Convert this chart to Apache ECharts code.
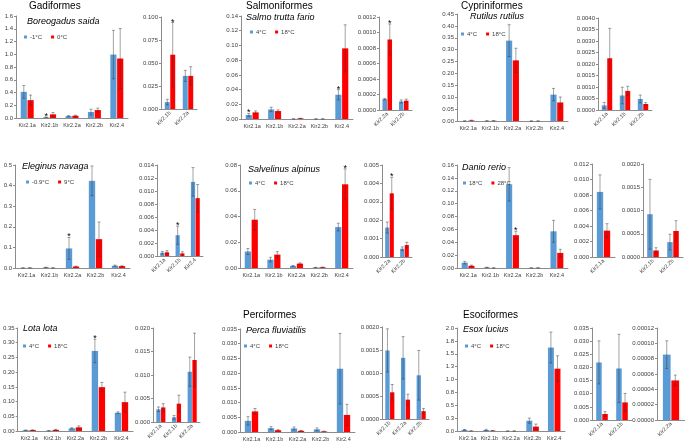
<!DOCTYPE html>
<html><head><meta charset="utf-8">
<script src="https://cdn.jsdelivr.net/npm/echarts@6/dist/echarts.min.js"></script>
<style>html,body{margin:0;padding:0;background:#fff}#c{width:685px;height:442px}</style>
</head><body><div id="c"></div>
<script>
// ---------- DATA ----------
const cats5 = ['Kir2.1a','Kir2.1b','Kir2.2a','Kir2.2b','Kir2.4'];

// Gadiformes - Boreogadus saida
const boreoNames = ['-1°C','0°C'];
const boreoCold = [0.41, 0.01, 0.03, 0.094, 0.995];
const boreoColdErr = [0.10, 0.005, 0.01, 0.045, 0.38];
const boreoWarm = [0.28, 0.057, 0.035, 0.125, 0.933];
const boreoWarmErr = [0.08, 0.03, 0.008, 0.03, 0.47];
const boreoStars = [[0,1]];
const boreoSCats = ['Kir2.1b','Kir2.2a'];
const boreoSCold = [0.0075, 0.036];
const boreoSColdErr = [0.003, 0.006];
const boreoSWarm = [0.059, 0.036];
const boreoSWarmErr = [0.035, 0.010];
const boreoSStars = [[1,0]];

// Salmoniformes - Salmo trutta fario
const salmoNames = ['4°C','18°C'];
const salmoCold = [0.0055, 0.013, 0.00014, 0.0001, 0.033];
const salmoColdErr = [0.002, 0.003, 0.00002, 0.00002, 0.007];
const salmoWarm = [0.009, 0.0108, 0.0009, 0.0001, 0.096];
const salmoWarmErr = [0.002, 0.0016, 0.0002, 0.00003, 0.032];
const salmoStars = [[0,0],[0,4]];
const salmoSCats = ['Kir2.2a','Kir2.2b'];
const salmoSCold = [0.00014, 0.00011];
const salmoSColdErr = [0.00001, 0.00002];
const salmoSWarm = [0.00091, 0.00012];
const salmoSWarmErr = [0.0002, 0.00002];
const salmoSStars = [[1,0]];

// Cypriniformes - Rutilus rutilus
const rutilNames = ['4°C','18°C'];
const rutilCold = [0.0002, 0.0006, 0.338, 0.0001, 0.111];
const rutilColdErr = [0.0001, 0.0003, 0.067, 0.0001, 0.026];
const rutilWarm = [0.0022, 0.0008, 0.255, 0.0001, 0.078];
const rutilWarmErr = [0.0013, 0.0002, 0.051, 0.0001, 0.023];
const rutilSCats = ['Kir2.1a','Kir2.1b','Kir2.2b'];
const rutilSCold = [0.0002, 0.00063, 0.00048];
const rutilSColdErr = [0.00013, 0.00036, 0.00017];
const rutilSWarm = [0.00225, 0.00083, 0.00026];
const rutilSWarmErr = [0.0013, 0.0002, 0.00006];

// Eleginus navaga
const elegNames = ['-0.9°C','9°C'];
const elegCold = [0.0005, 0.003, 0.095, 0.423, 0.011];
const elegColdErr = [0.0002, 0.001, 0.053, 0.072, 0.003];
const elegWarm = [0.0006, 0.0005, 0.007, 0.14, 0.009];
const elegWarmErr = [0.0002, 0.0002, 0.002, 0.083, 0.002];
const elegStars = [[0,2]];
const elegSCats = ['Kir2.1a','Kir2.1b','Kir2.4'];
const elegSCold = [0.0005, 0.0032, 0.0114];
const elegSColdErr = [0.0002, 0.0014, 0.0022];
const elegSWarm = [0.00057, 0.0004, 0.0089];
const elegSWarmErr = [0.00025, 0.00025, 0.0021];
const elegSStars = [[0,1]];

// Salvelinus alpinus
const salvNames = ['4°C','18°C'];
const salvCold = [0.0128, 0.0065, 0.0016, 0.0004, 0.0318];
const salvColdErr = [0.0023, 0.0018, 0.0003, 0.0001, 0.003];
const salvWarm = [0.0375, 0.0104, 0.0034, 0.0006, 0.065];
const salvWarmErr = [0.008, 0.0023, 0.0006, 0.0001, 0.012];
const salvStars = [[1,4]];
const salvSCats = ['Kir2.2a','Kir2.2b'];
const salvSCold = [0.0016, 0.00045];
const salvSColdErr = [0.0003, 0.0001];
const salvSWarm = [0.00346, 0.00065];
const salvSWarmErr = [0.00087, 0.00015];
const salvSStars = [[1,0]];

// Danio rerio
const danioNames = ['18°C','28°C'];
const danioCold = [0.0083, 0.0009, 0.13, 0.0002, 0.057];
const danioColdErr = [0.002, 0.0002, 0.026, 0.0001, 0.017];
const danioWarm = [0.0034, 0.0001, 0.051, 0.0002, 0.0234];
const danioWarmErr = [0.001, 0.0001, 0.006, 0.0001, 0.0057];
const danioStars = [[1,2]];
const danioACats = ['Kir2.1a'];
const danioACold = [0.0084];
const danioAColdErr = [0.0022];
const danioAWarm = [0.0034];
const danioAWarmErr = [0.0009];
const danioBCats = ['Kir2.1b','Kir2.2b'];
const danioBCold = [0.00092, 0.00032];
const danioBColdErr = [0.00075, 0.00017];
const danioBWarm = [0.00014, 0.00056];
const danioBWarmErr = [0.00006, 0.00022];

// Lota lota
const lotaNames = ['4°C','18°C'];
const lotaCold = [0.0027, 0.001, 0.009, 0.272, 0.062];
const lotaColdErr = [0.0005, 0.0004, 0.002, 0.04, 0.003];
const lotaWarm = [0.0031, 0.0039, 0.0124, 0.149, 0.098];
const lotaWarmErr = [0.0008, 0.0018, 0.005, 0.016, 0.034];
const lotaStars = [[0,3]];
const lotaSCats = ['Kir2.1a','Kir2.1b','Kir2.2a'];
const lotaSCold = [0.0027, 0.001, 0.0107];
const lotaSColdErr = [0.0005, 0.0004, 0.0031];
const lotaSWarm = [0.0031, 0.0039, 0.0132];
const lotaSWarmErr = [0.0008, 0.0018, 0.0057];

// Perciformes - Perca fluviatilis
const percaNames = ['4°C','18°C'];
const percaCold = [0.0038, 0.0013, 0.0012, 0.0009, 0.0215];
const percaColdErr = [0.0014, 0.0005, 0.0005, 0.0005, 0.012];
const percaWarm = [0.007, 0.0006, 0.0004, 0.0002, 0.0058];
const percaWarmErr = [0.001, 0.0002, 0.0001, 0.0001, 0.0036];
const percaSCats = ['Kir2.1b','Kir2.2a','Kir2.2b'];
const percaSCold = [0.00149, 0.00133, 0.00095];
const percaSColdErr = [0.00047, 0.00046, 0.00054];
const percaSWarm = [0.00058, 0.00042, 0.00017];
const percaSWarmErr = [0.00017, 0.00012, 0.00006];

// Esociformes - Esox lucius
const esoxNames = ['4°C','18°C'];
const esoxCold = [0.022, 0.02, 0.0001, 0.2, 1.62];
const esoxColdErr = [0.008, 0.013, 0.00002, 0.05, 0.3];
const esoxWarm = [0.002, 0.007, 0.00005, 0.085, 1.21];
const esoxWarmErr = [0.001, 0.003, 0.00001, 0.05, 0.25];
const esoxACats = ['Kir2.1a','Kir2.1b'];
const esoxACold = [0.0219, 0.0196];
const esoxAColdErr = [0.0082, 0.013];
const esoxAWarm = [0.0023, 0.0067];
const esoxAWarmErr = [0.0009, 0.0034];
const esoxBCats = ['Kir2.2a'];
const esoxBCold = [0.0000853];
const esoxBColdErr = [0.000018];
const esoxBWarm = [0.0000516];
const esoxBWarmErr = [0.000007];

// ---------- LAYOUT / STYLE ----------
const FONT = 'Liberation Sans, Arial, sans-serif';
const BLUE = '#5B9BD5', RED = '#FF0000';
const ERR = 'rgba(50,50,50,0.45)';
const CAT_GAP = 0.42, BAR_GAP = 0.1;

const panels = [
  {g:[16,16,112,102], cats:cats5, v:[boreoCold,boreoWarm], e:[boreoColdErr,boreoWarmErr], st:boreoStars, max:1.6, iv:0.2, d:1, names:boreoNames},
  {g:[161,17,36,92], cats:boreoSCats, v:[boreoSCold,boreoSWarm], e:[boreoSColdErr,boreoSWarmErr], st:boreoSStars, max:0.1, iv:0.025, d:3, rot:true},
  {g:[241,16,112,103], cats:cats5, v:[salmoCold,salmoWarm], e:[salmoColdErr,salmoWarmErr], st:salmoStars, max:0.14, iv:0.02, d:2, names:salmoNames},
  {g:[379,17,33,93], cats:salmoSCats, v:[salmoSCold,salmoSWarm], e:[salmoSColdErr,salmoSWarmErr], st:salmoSStars, max:0.0012, iv:0.0002, d:4, rot:true},
  {g:[457,14,111,107], cats:cats5, v:[rutilCold,rutilWarm], e:[rutilColdErr,rutilWarmErr], st:[], max:0.45, iv:0.05, d:2, names:rutilNames},
  {g:[598,18,54,92], cats:rutilSCats, v:[rutilSCold,rutilSWarm], e:[rutilSColdErr,rutilSWarmErr], st:[], max:0.004, iv:0.0005, d:4, rot:true},

  {g:[15,165,115,103], cats:cats5, v:[elegCold,elegWarm], e:[elegColdErr,elegWarmErr], st:elegStars, max:0.5, iv:0.1, d:1, names:elegNames},
  {g:[157,165,46,91], cats:elegSCats, v:[elegSCold,elegSWarm], e:[elegSColdErr,elegSWarmErr], st:elegSStars, max:0.014, iv:0.002, d:3, rot:true},
  {g:[240,165,113,103], cats:cats5, v:[salvCold,salvWarm], e:[salvColdErr,salvWarmErr], st:salvStars, max:0.08, iv:0.02, d:2, names:salvNames},
  {g:[382,165,30,92], cats:salvSCats, v:[salvSCold,salvSWarm], e:[salvSColdErr,salvSWarmErr], st:salvSStars, max:0.005, iv:0.001, d:3, rot:true},
  {g:[457,165,111,103], cats:cats5, v:[danioCold,danioWarm], e:[danioColdErr,danioWarmErr], st:danioStars, max:0.16, iv:0.02, d:2, names:danioNames},
  {g:[592,164,23,93], cats:danioACats, v:[danioACold,danioAWarm], e:[danioAColdErr,danioAWarmErr], st:[], max:0.012, iv:0.002, d:3, rot:true},
  {g:[643,164,40,93], cats:danioBCats, v:[danioBCold,danioBWarm], e:[danioBColdErr,danioBWarmErr], st:[], max:0.002, iv:0.0005, d:4, rot:true},

  {g:[17,328,116,103], cats:cats5, v:[lotaCold,lotaWarm], e:[lotaColdErr,lotaWarmErr], st:lotaStars, max:0.35, iv:0.05, d:2, names:lotaNames},
  {g:[153,328,47,94], cats:lotaSCats, v:[lotaSCold,lotaSWarm], e:[lotaSColdErr,lotaSWarmErr], st:[], max:0.02, iv:0.005, d:3, rot:true},
  {g:[240,329,115,103], cats:cats5, v:[percaCold,percaWarm], e:[percaColdErr,percaWarmErr], st:[], max:0.035, iv:0.005, d:3, names:percaNames},
  {g:[382,327,47,92], cats:percaSCats, v:[percaSCold,percaSWarm], e:[percaSColdErr,percaSWarmErr], st:[], max:0.002, iv:0.0005, d:4, rot:true},
  {g:[457,328,108,103], cats:cats5, v:[esoxCold,esoxWarm], e:[esoxColdErr,esoxWarmErr], st:[], max:2.0, iv:0.25, d:1, names:esoxNames},
  {g:[592,328,40,92], cats:esoxACats, v:[esoxACold,esoxAWarm], e:[esoxAColdErr,esoxAWarmErr], st:[], max:0.035, iv:0.005, d:3, rot:true},
  {g:[657,328,28,92], cats:esoxBCats, v:[esoxBCold,esoxBWarm], e:[esoxBColdErr,esoxBWarmErr], st:[], max:0.00012, iv:0.00002, d:5, rot:true}
];

const legendPos = [[24,34,9],[250,29,9],[461,31,9],[26,179,9],[249,180,9],[463,180,9],[23,343,9],[244,343,9],[465,343,9]];

const titles = [
  {text:'Gadiformes', left:29, top:1, big:true},
  {text:'Salmoniformes', left:246, top:1, big:true},
  {text:'Cypriniformes', left:461, top:1, big:true},
  {text:'Perciformes', left:243, top:310, big:true},
  {text:'Esociformes', left:463, top:310, big:true},
  {text:'Boreogadus saida', left:27, top:17},
  {text:'Salmo trutta fario', left:246, top:13},
  {text:'Rutilus rutilus', left:470, top:12},
  {text:'Eleginus navaga', left:22, top:162},
  {text:'Salvelinus alpinus', left:248, top:165},
  {text:'Danio rerio', left:462, top:163},
  {text:'Lota lota', left:23, top:324},
  {text:'Perca fluviatilis', left:246, top:326},
  {text:'Esox lucius', left:463, top:325}
];

function makeErr(si, n) {
  return function (params, api) {
    const ci = api.value(0), v = api.value(1), e = api.value(2), star = api.value(3);
    const base = api.coord([ci, 0]);
    const band = api.size([1, 0])[0];
    const bw = band * (1 - CAT_GAP) / (n + (n - 1) * BAR_GAP);
    const total = bw * n + bw * BAR_GAP * (n - 1);
    const x = base[0] - total / 2 + si * bw * (1 + BAR_GAP) + bw / 2;
    const yt = api.coord([ci, v + e])[1];
    const yb = api.coord([ci, Math.max(v - e, 0)])[1];
    const st = {stroke: ERR, lineWidth: 1};
    const ch = [
      {type:'line', shape:{x1:x, y1:yt, x2:x, y2:yb}, style:st},
      {type:'line', shape:{x1:x-1.5, y1:yt, x2:x+1.5, y2:yt}, style:st},
      {type:'line', shape:{x1:x-1.5, y1:yb, x2:x+1.5, y2:yb}, style:st}
    ];
    if (star) ch.push({type:'text', style:{text:'*', x:x, y:yt + 4, align:'center', verticalAlign:'bottom', fontSize:9, fill:'#000', fontFamily:FONT}});
    return {type:'group', children:ch};
  };
}

const grid = [], xAxis = [], yAxis = [], series = [], legend = [];
let li = 0;
panels.forEach((p, i) => {
  grid.push({left:p.g[0], top:p.g[1], width:p.g[2], height:p.g[3], containLabel:false});
  xAxis.push({type:'category', gridIndex:i, data:p.cats,
    axisLine:{lineStyle:{color:'#8c8c8c', width:1}}, axisTick:{show:false},
    axisLabel:{interval:0, fontSize:5.5, color:'#404040', fontFamily:FONT, margin:p.rot ? 3 : 4, rotate:p.rot ? 45 : 0}});
  yAxis.push({type:'value', gridIndex:i, min:0, max:p.max, interval:p.iv,
    axisLine:{show:true, lineStyle:{color:'#8c8c8c', width:1}},
    axisTick:{show:true, length:2, lineStyle:{color:'#8c8c8c'}},
    splitLine:{show:false},
    axisLabel:{fontSize:6, color:'#404040', fontFamily:FONT, margin:3, formatter:(v) => v.toFixed(p.d)}});
  const colors = [BLUE, RED];
  const sn = p.names || (panels.slice(0, i).reverse().find(q => q.names) || {}).names;
  [0, 1].forEach(si => {
    series.push({type:'bar', name:sn[si], xAxisIndex:i, yAxisIndex:i, data:p.v[si],
      itemStyle:{color:colors[si]}, barCategoryGap:(CAT_GAP*100)+'%', barGap:(BAR_GAP*100)+'%', z:2});
    const stars = p.st.filter(s => s[0] === si).map(s => s[1]);
    series.push({type:'custom', xAxisIndex:i, yAxisIndex:i, clip:false, z:3,
      renderItem:makeErr(si, 2), encode:{x:0, y:1},
      data:p.v[si].map((val, k) => [k, val, p.e[si][k], stars.includes(k) ? 1 : 0])});
  });
  if (p.names) {
    const lp = legendPos[li++];
    legend.push({left:lp[0], top:lp[1], itemGap:lp[2], padding:0, selectedMode:false,
      icon:'rect', itemWidth:3, itemHeight:3,
      textStyle:{fontSize:6, color:'#404040', fontFamily:FONT, padding:[0,0,0,-2]},
      data:[{name:p.names[0], itemStyle:{color:BLUE}}, {name:p.names[1], itemStyle:{color:RED}}]});
  }
});

const title = titles.map(t => ({text:t.text, left:t.left, top:t.top, padding:0,
  textStyle:{fontSize:t.big ? 10 : 9, fontWeight:'normal', fontStyle:t.big ? 'normal' : 'italic', color:'#000', fontFamily:FONT}}));

const chart = echarts.init(document.getElementById('c'), null, {renderer:'canvas'});
chart.setOption({animation:false, backgroundColor:'#fff', title, legend, grid, xAxis, yAxis, series});
</script>
</body></html>
